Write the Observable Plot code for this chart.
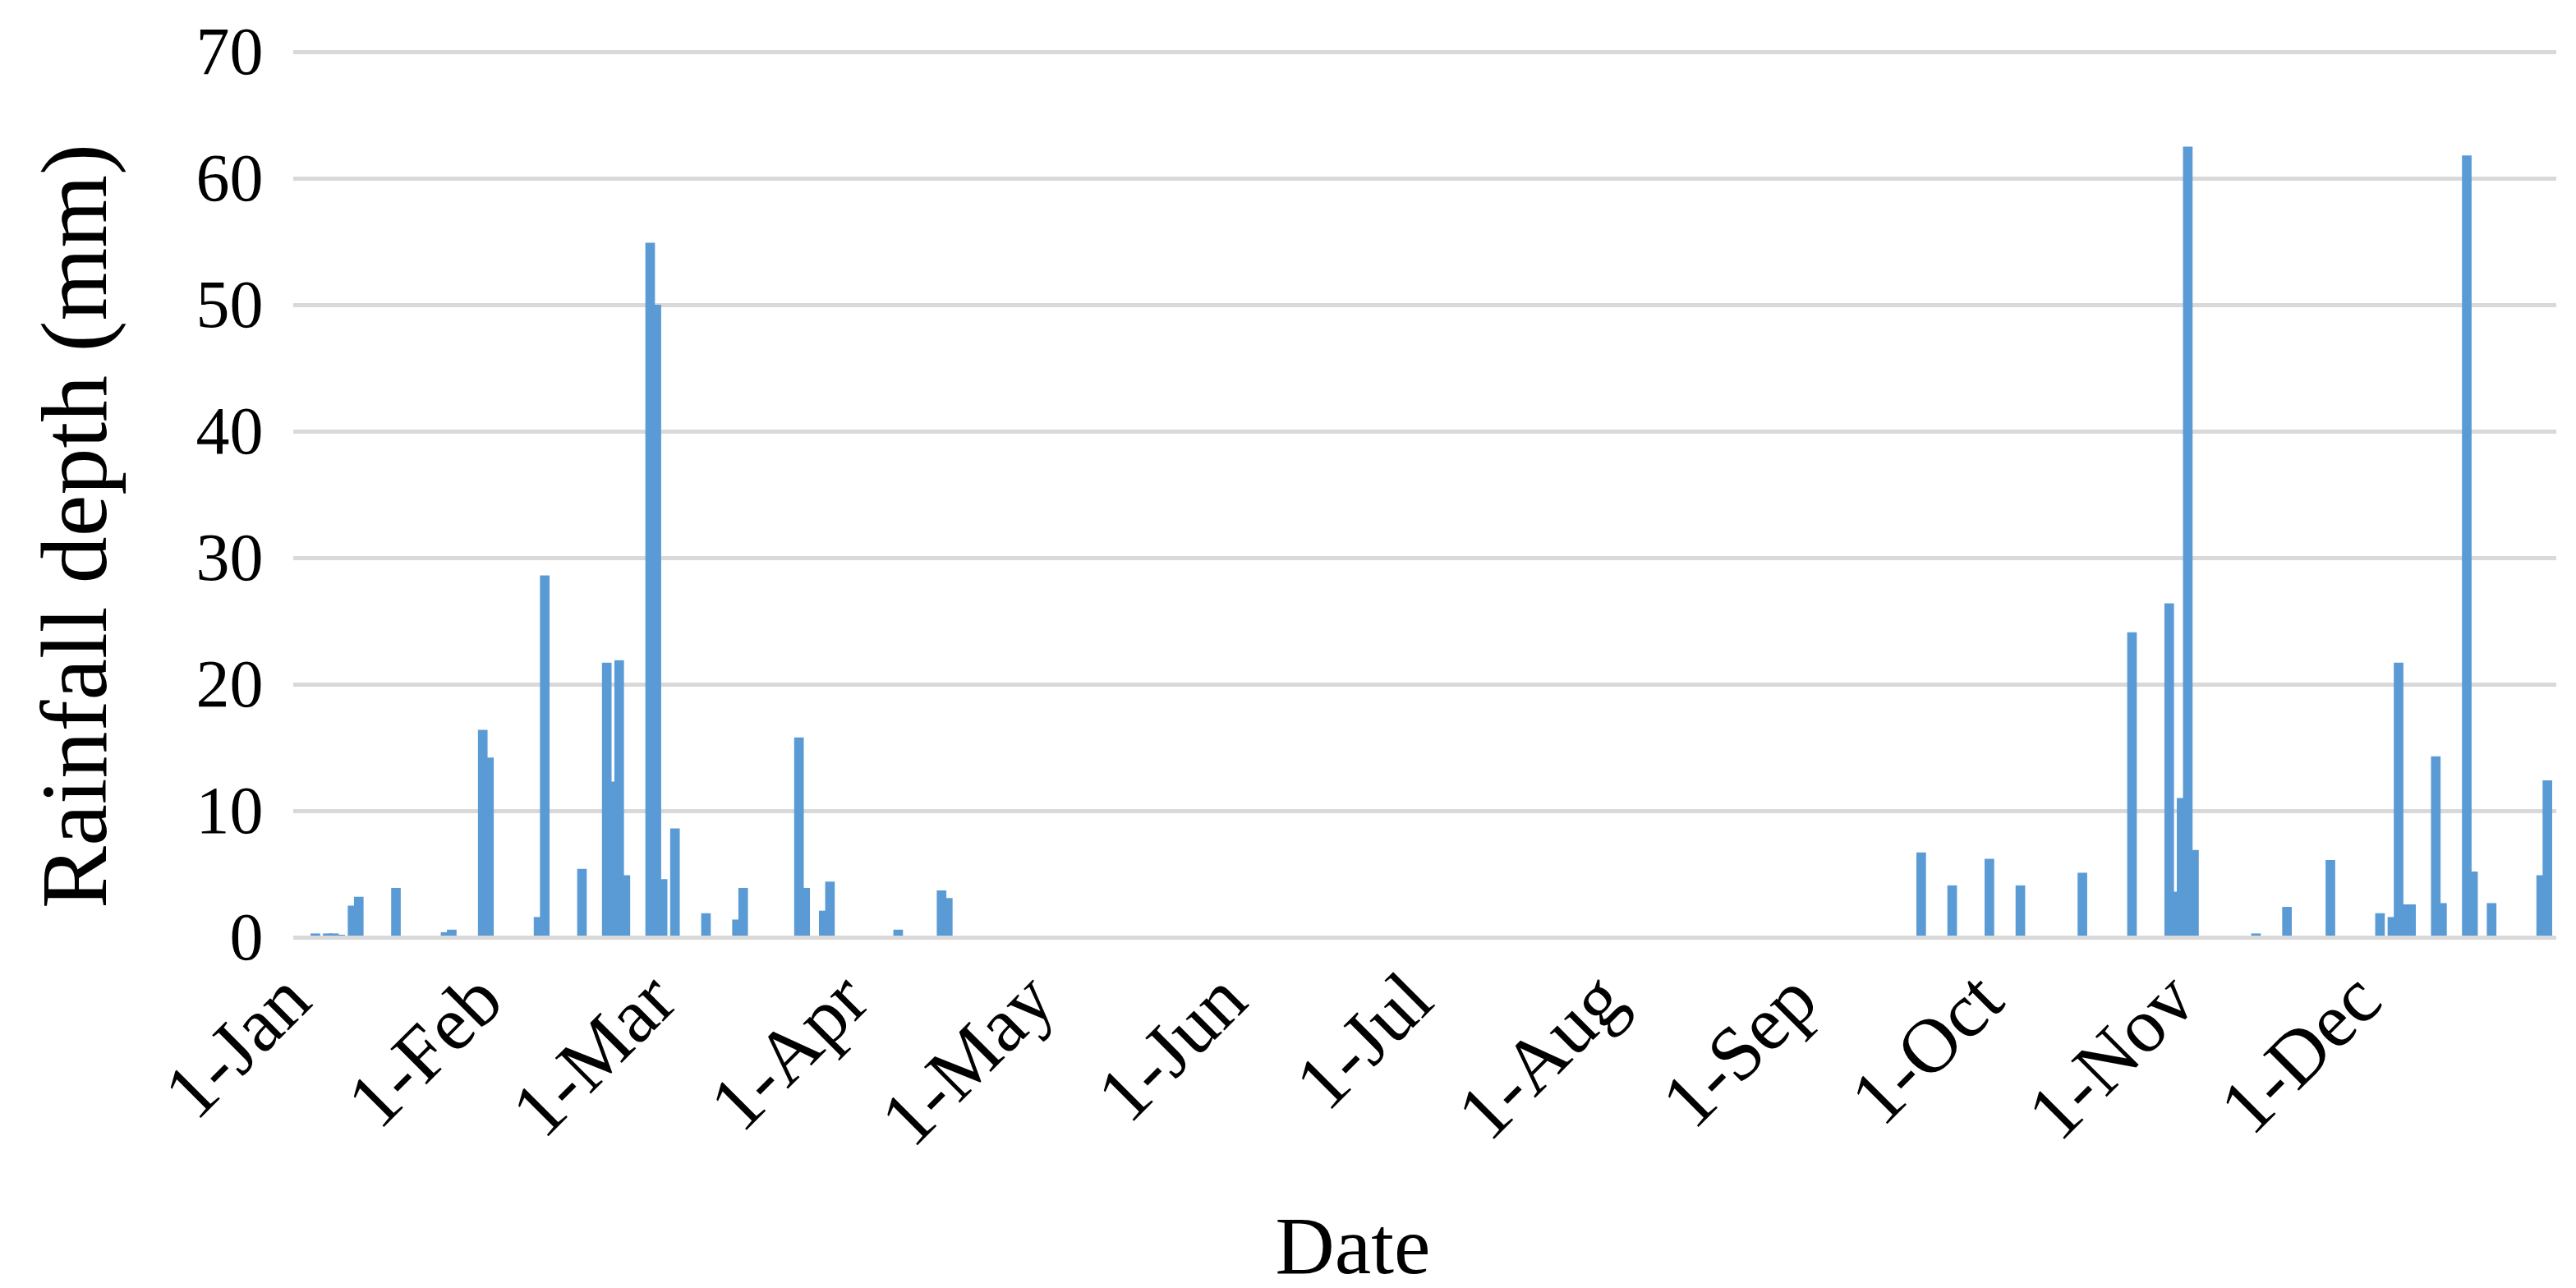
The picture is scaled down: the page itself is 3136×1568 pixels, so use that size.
<!DOCTYPE html>
<html>
<head>
<meta charset="utf-8">
<script src="https://cdn.jsdelivr.net/npm/d3@7"></script>
<script src="https://cdn.jsdelivr.net/npm/@observablehq/plot@0.6"></script>
<style>
  html, body { margin: 0; padding: 0; background: #fff; }
  #chart svg { display: block; }
</style>
</head>
<body>
<div id="chart"></div>
<script>
// Daily rainfall (mm)
const rainDates = [
  "2019-01-04","2019-01-06","2019-01-07","2019-01-08","2019-01-10","2019-01-11","2019-01-17",
  "2019-01-25","2019-01-26","2019-01-31","2019-02-01","2019-02-09","2019-02-10","2019-02-16",
  "2019-02-20","2019-02-21","2019-02-22","2019-02-23","2019-02-27","2019-02-28","2019-03-01",
  "2019-03-03","2019-03-08","2019-03-13","2019-03-14","2019-03-23","2019-03-24","2019-03-27",
  "2019-03-28","2019-04-08","2019-04-15","2019-04-16",
  "2019-09-20","2019-09-25","2019-10-01","2019-10-06","2019-10-16","2019-10-24","2019-10-30",
  "2019-10-31","2019-11-01","2019-11-02","2019-11-03","2019-11-13","2019-11-18","2019-11-25",
  "2019-12-03","2019-12-05","2019-12-06","2019-12-07","2019-12-08","2019-12-12","2019-12-13",
  "2019-12-17","2019-12-18","2019-12-21","2019-12-29","2019-12-30"
];
const rainValues = [
  0.3, 0.3, 0.3, 0.2, 2.5, 3.2, 3.9,
  0.4, 0.6, 16.4, 14.2, 1.6, 28.6, 5.4,
  21.7, 12.3, 21.9, 4.9, 54.9, 50.0, 4.6,
  8.6, 1.9, 1.4, 3.9, 15.8, 3.9, 2.1,
  4.4, 0.6, 3.7, 3.1,
  6.7, 4.1, 6.2, 4.1, 5.1, 24.1, 26.4,
  3.6, 11.0, 62.5, 6.9, 0.3, 2.4, 6.1,
  1.9, 1.6, 21.7, 2.6, 2.6, 14.3, 2.7,
  61.8, 5.2, 2.7, 4.9, 12.4
];
const yTicks = [0, 10, 20, 30, 40, 50, 60, 70];
const monthTickDates = [
  "2019-01-01","2019-02-01","2019-03-01","2019-04-01","2019-05-01","2019-06-01",
  "2019-07-01","2019-08-01","2019-09-01","2019-10-01","2019-11-01","2019-12-01"
];
const monthTickLabels = [
  "1-Jan","1-Feb","1-Mar","1-Apr","1-May","1-Jun",
  "1-Jul","1-Aug","1-Sep","1-Oct","1-Nov","1-Dec"
];
const yTitle = "Rainfall depth (mm)";
const xTitle = "Date";

// each day is centred in its day slot (noon)
const midDay = s => new Date(s + "T12:00:00Z");
const rain = rainDates.map((s, i) => ({date: midDay(s), value: rainValues[i]}));
const monthTicks = monthTickDates.map(midDay);
const labelOf = new Map(monthTicks.map((d, i) => [+d, monthTickLabels[i]]));

const FONT = "Liberation Serif, Times New Roman, serif";

const chart = Plot.plot({
  width: 3136,
  height: 1568,
  marginLeft: 357,
  marginRight: 24,
  marginTop: 63,
  marginBottom: 427,
  style: {fontFamily: FONT, color: "#000", background: "#fff", overflow: "visible"},
  x: {type: "utc", domain: [new Date("2019-01-01T00:00:00Z"), new Date("2020-01-01T00:00:00Z")]},
  y: {domain: [0, 70]},
  marks: [
    Plot.ruleY(yTicks.filter(d => d > 0), {stroke: "#d9d9d9", strokeWidth: 5}),
    Plot.ruleX(rain, {x: "date", y1: 0, y2: "value", stroke: "#5b9bd5", strokeWidth: 11.7}),
    Plot.ruleY([0], {stroke: "#d9d9d9", strokeWidth: 5}),
    Plot.axisY({ticks: yTicks, tickSize: 0, tickPadding: 37, fontSize: 82, label: null}),
    Plot.axisX(monthTicks, {
      tickFormat: d => labelOf.get(+d),
      tickRotate: -45, tickSize: 0, tickPadding: 60, fontSize: 94, label: null
    }),
    Plot.text([yTitle], {frameAnchor: "left", textAnchor: "middle", rotate: -90, dx: -265, dy: 38, fontSize: 114}),
    Plot.text([xTitle], {frameAnchor: "bottom", dx: -88, dy: 408, fontSize: 100})
  ]
});
document.getElementById("chart").appendChild(chart);
</script>
</body>
</html>
